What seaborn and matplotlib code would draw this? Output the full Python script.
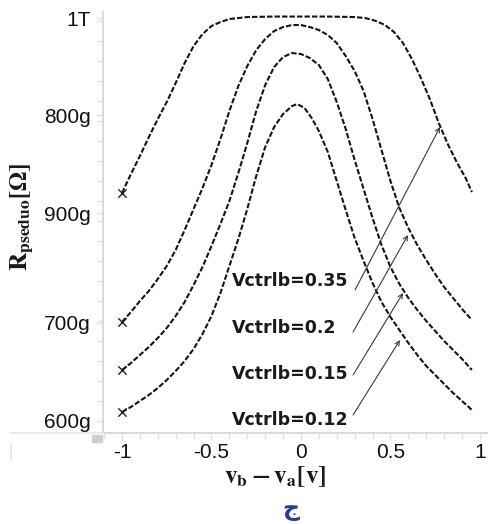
import numpy as np
import pandas as pd
import matplotlib
matplotlib.use('Agg')
import matplotlib.pyplot as plt
import seaborn as sns
from matplotlib.lines import Line2D
from matplotlib.patches import Rectangle
from matplotlib.ticker import MultipleLocator

# ---------------- data ----------------
series_names = ['Vctrlb=0.35', 'Vctrlb=0.2', 'Vctrlb=0.15', 'Vctrlb=0.12']

x_035 = [-1.0, -0.95, -0.90, -0.85, -0.80, -0.75, -0.70, -0.65, -0.60, -0.55, -0.50, -0.45,
         -0.40, -0.30, -0.15, 0.0, 0.15, 0.30, 0.36, 0.42, 0.47, 0.52, 0.57, 0.62, 0.67,
         0.72, 0.77, 0.82, 0.87, 0.92, 0.955]
y_035 = [2.28, 2.47, 2.65, 2.84, 3.02, 3.19, 3.38, 3.58, 3.75, 3.87, 3.95, 3.99,
         4.02, 4.04, 4.045, 4.045, 4.045, 4.04, 4.03, 4.00, 3.96, 3.89, 3.78, 3.62, 3.43,
         3.22, 2.98, 2.77, 2.59, 2.43, 2.29]

x_020 = [-1.0, -0.95, -0.90, -0.85, -0.80, -0.75, -0.70, -0.65, -0.60, -0.55, -0.50, -0.45,
         -0.40, -0.35, -0.30, -0.25, -0.20, -0.15, -0.10, -0.05, 0.0, 0.05, 0.10, 0.15,
         0.20, 0.25, 0.30, 0.35, 0.40, 0.45, 0.50, 0.55, 0.60, 0.65, 0.70, 0.75, 0.80,
         0.85, 0.90, 0.955]
y_020 = [0.99, 1.09, 1.20, 1.30, 1.42, 1.55, 1.71, 1.91, 2.12, 2.33, 2.56, 2.82,
         3.10, 3.35, 3.55, 3.71, 3.82, 3.90, 3.94, 3.96, 3.96, 3.94, 3.91, 3.86,
         3.78, 3.65, 3.50, 3.30, 3.02, 2.71, 2.40, 2.13, 1.93, 1.76, 1.61, 1.47, 1.34,
         1.23, 1.12, 1.01]

x_015 = [-1.0, -0.95, -0.90, -0.85, -0.80, -0.75, -0.70, -0.65, -0.60, -0.55, -0.50, -0.45,
         -0.40, -0.35, -0.30, -0.25, -0.20, -0.15, -0.10, -0.05, 0.0, 0.05, 0.10, 0.15,
         0.20, 0.25, 0.30, 0.35, 0.40, 0.45, 0.50, 0.55, 0.60, 0.65, 0.70, 0.75, 0.80,
         0.85, 0.90, 0.955]
y_015 = [0.51, 0.58, 0.66, 0.74, 0.83, 0.93, 1.05, 1.19, 1.36, 1.54, 1.75, 1.97,
         2.20, 2.48, 2.78, 3.10, 3.36, 3.54, 3.64, 3.68, 3.67, 3.63, 3.56, 3.42,
         3.19, 2.92, 2.61, 2.32, 2.03, 1.76, 1.54, 1.37, 1.23, 1.11, 1.00, 0.90, 0.80,
         0.71, 0.62, 0.51]

x_012 = [-1.0, -0.95, -0.90, -0.85, -0.80, -0.75, -0.70, -0.65, -0.60, -0.55, -0.50, -0.45,
         -0.40, -0.35, -0.30, -0.25, -0.20, -0.15, -0.10, -0.05, -0.02, 0.02, 0.06, 0.10,
         0.15, 0.20, 0.25, 0.30, 0.35, 0.40, 0.45, 0.50, 0.55, 0.60, 0.65, 0.70, 0.75,
         0.80, 0.85, 0.90, 0.955]
y_012 = [0.09, 0.14, 0.20, 0.26, 0.33, 0.41, 0.50, 0.60, 0.72, 0.87, 1.05, 1.28,
         1.55, 1.82, 2.12, 2.45, 2.74, 2.94, 3.07, 3.15, 3.17, 3.13, 3.03, 2.90,
         2.69, 2.40, 2.11, 1.83, 1.60, 1.38, 1.19, 1.04, 0.91, 0.78, 0.66, 0.55, 0.46,
         0.37, 0.28, 0.20, 0.11]

y_tick_values = [0.0, 0.98, 2.08, 3.06, 4.03]
y_tick_labels = ['600g', '700g', '900g', '800g', '1T']
x_tick_values = [-1.0, -0.5, 0.0, 0.5, 1.0]
x_tick_labels = ['-1', '-0.5', '0', '0.5', '1']

# ---------------- figure ----------------
sns.set_theme(style='white')
plt.rcParams['mathtext.fontset'] = 'stix'
plt.rcParams['font.family'] = ['DejaVu Sans']

fig = plt.figure(figsize=(4.88, 5.24), dpi=100)
ax = fig.add_axes([0.2111, 0.1737, 0.7889, 0.8033])

frames = []
for name, xs, ys in zip(series_names, [x_035, x_020, x_015, x_012], [y_035, y_020, y_015, y_012]):
    frames.append(pd.DataFrame({'x': xs, 'y': ys, 'series': name}))
df = pd.concat(frames, ignore_index=True)

sns.lineplot(data=df, x='x', y='y', hue='series', style='series',
             palette=['#141414'] * 4, dashes=[(2.6, 1.0)] * 4, linewidth=1.5,
             estimator=None, sort=False, legend=False, ax=ax)

start_pts = df.groupby('series', sort=False).first().reset_index()
sns.scatterplot(data=start_pts, x='x', y='y', marker='x', color='#222222',
                s=36, linewidth=1.0, legend=False, ax=ax, zorder=5)

# annotations
label_x = -0.385
label_y = [1.40, 0.93, 0.47, 0.01]
arrow_start = [(0.302, 1.31), (0.291, 0.89), (0.291, 0.46), (0.291, 0.06)]
arrow_end = [(0.777, 2.94), (0.598, 1.86), (0.570, 1.28), (0.553, 0.81)]
for name, ly, a0, a1 in zip(series_names, label_y, arrow_start, arrow_end):
    ax.text(label_x, ly, name, fontsize=12.5, fontweight='bold', color='#1a1a1a',
            ha='left', va='center', family=['DejaVu Sans'])
    ax.annotate('', xy=a1, xytext=a0,
                arrowprops=dict(arrowstyle='->', color='#3a3a3a', lw=0.8,
                                shrinkA=0, shrinkB=0, mutation_scale=8))

ax.set_xlim(-1.106, 1.045)
ax.set_ylim(-0.12, 4.09)
ax.set_xticks(x_tick_values)
ax.set_xticklabels(x_tick_labels)
ax.set_yticks(y_tick_values)
ax.set_yticklabels(y_tick_labels)
ax.xaxis.set_minor_locator(MultipleLocator(0.1))
ax.yaxis.set_minor_locator(MultipleLocator(0.2))
ax.set_xlabel('')
ax.set_ylabel('')

for lab in ax.get_xticklabels() + ax.get_yticklabels():
    lab.set_family(['Liberation Sans', 'DejaVu Sans'])
    lab.set_fontsize(15)
    lab.set_color('#111111')

ax.tick_params(which='both', left=True, bottom=True, direction='out', color='#e2e2e2', width=1.0)
ax.tick_params(which='major', length=5, pad=4)
ax.tick_params(which='minor', length=4)
ax.tick_params(axis='x', which='major', pad=2)

for s in ['top', 'right']:
    ax.spines[s].set_visible(False)
for s in ['left', 'bottom']:
    ax.spines[s].set_color('#dadada')
    ax.spines[s].set_linewidth(1.5)

# labels outside axes
fig.text(0.047, 0.586, r'$\mathbf{R_{pseduo}[\Omega]}$', rotation=90,
         ha='center', va='center', fontsize=18, color='#1a1a1a')
fig.text(0.5635, 0.0905, r'$\mathbf{v_b - v_a[v]}$', ha='center', va='center',
         fontsize=18, color='#1a1a1a')
fig.text(0.596, 0.029, 'ج', color='#2b3990', fontsize=17, fontweight='bold',
         ha='center', va='center', family=['DejaVu Sans'])

# faint scan artefacts near bottom-left corner
fig.patches.append(Rectangle((92 / 488, 1 - 442 / 524), 10 / 488, 7 / 524,
                             transform=fig.transFigure, color='#cfcfcf', zorder=0))
fig.lines.append(Line2D([10 / 488, 103 / 488], [1 - 433 / 524] * 2, transform=fig.transFigure,
                        color='#e8e8e8', lw=1.2))
fig.lines.append(Line2D([11 / 488] * 2, [1 - 445 / 524, 1 - 460 / 524], transform=fig.transFigure,
                        color='#e4e4e4', lw=1.2))

fig.savefig('out.png', dpi=100)
